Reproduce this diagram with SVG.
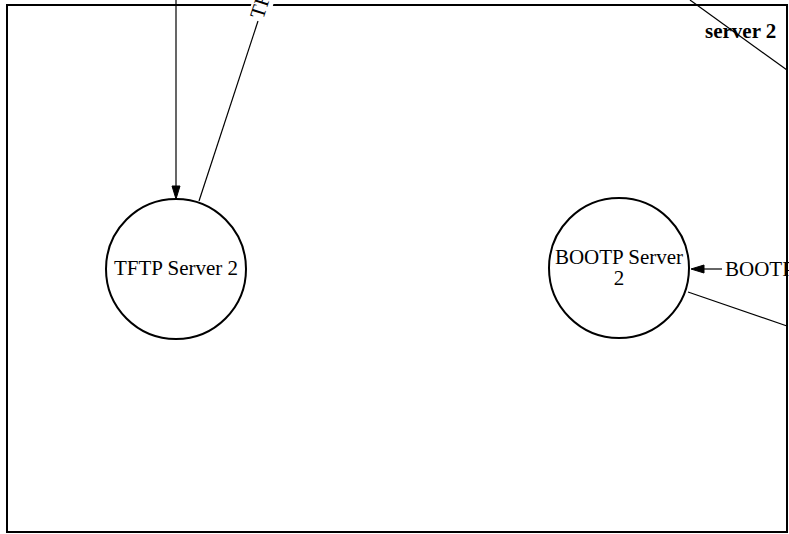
<svg xmlns="http://www.w3.org/2000/svg" width="789" height="534" viewBox="0 0 789 534">
<style>
.node circle{fill:#fff;stroke:#000;stroke-width:2}
.lbl{font-family:'Liberation Serif','Times New Roman',serif;font-size:21px;fill:#000}
.edge{stroke:#000;stroke-width:1.2;fill:none}
.head{fill:#000;stroke:#000;stroke-width:1}
</style>
<rect x="0" y="0" width="789" height="534" fill="#fff"/>
<rect id="cluster" x="7" y="5" width="780" height="527" fill="none" stroke="#000" stroke-width="2"/>
<text class="lbl" x="705" y="38" font-weight="bold">server 2</text>
<g id="edges">
<line class="edge" x1="176" y1="0" x2="176" y2="186"/>
<polygon class="head" points="172,186 180,186 176,199"/>
<line class="edge" x1="199" y1="201" x2="258" y2="21"/>
<g transform="translate(263,20) rotate(-72)">
<rect x="-2" y="-16" width="70" height="21" fill="#fff"/>
<text class="lbl" x="0" y="0">TFTP</text>
</g>
<line class="edge" x1="690" y1="0" x2="787" y2="70"/>
<line class="edge" x1="704" y1="269" x2="722" y2="269"/>
<polygon class="head" points="704,265 704,273 691,269"/>
<text class="lbl" x="725" y="276">BOOTP</text>
<line class="edge" x1="688" y1="292" x2="787" y2="326"/>
</g>
<g id="tftp2" class="node">
<circle cx="176" cy="269" r="70"/>
<text class="lbl" x="176" y="275" text-anchor="middle">TFTP Server 2</text>
</g>
<g id="bootp2" class="node">
<circle cx="619" cy="268" r="70"/>
<text class="lbl" x="619" y="264" text-anchor="middle">BOOTP Server</text>
<text class="lbl" x="619" y="285" text-anchor="middle">2</text>
</g>
<line x1="787" y1="5" x2="787" y2="532" stroke="#000" stroke-width="2"/>
</svg>
